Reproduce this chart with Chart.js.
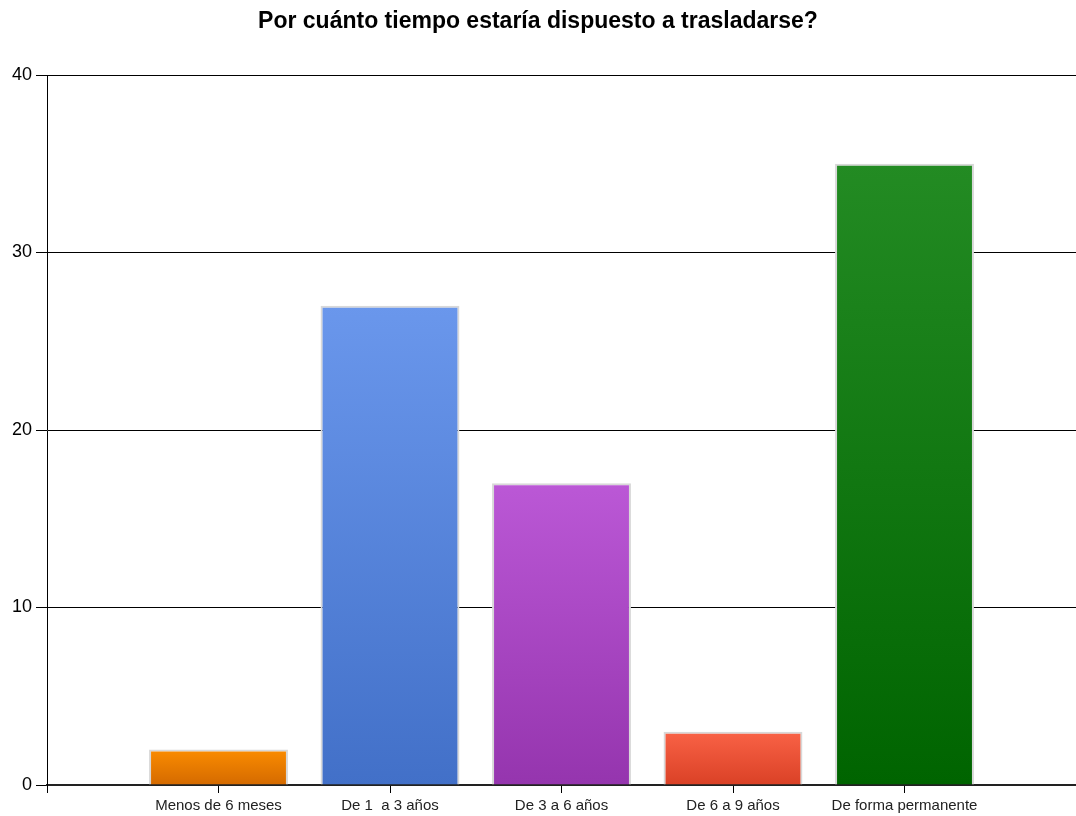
<!DOCTYPE html>
<html>
<head>
<meta charset="utf-8">
<title>Por cuánto tiempo estaría dispuesto a trasladarse?</title>
<script src="https://cdn.jsdelivr.net/npm/chart.js@4/dist/chart.umd.min.js"></script>
<style>
  html, body { margin: 0; padding: 0; background: #fff; }
  #wrap { width: 1076px; height: 816px; }
</style>
</head>
<body>
<div id="wrap"><canvas id="timeChart" width="1076" height="816"></canvas></div>
<script>
// chart data
const categories = ['Menos de 6 meses', 'De 1  a 3 años', 'De 3 a 6 años', 'De 6 a 9 años', 'De forma permanente'];
const values = [2, 27, 17, 3, 35];
const yTicks = [0, 10, 20, 30, 40];
const topColors = ['#fb8c00', '#6a97ec', '#bb58d6', '#f96246', '#238b23'];
const bottomColors = ['#d46a00', '#4270c8', '#9535ae', '#da4126', '#006400'];

// each bar gets its own top->bottom gradient
function barGradient(ctx) {
    const chart = ctx.chart;
    const i = ctx.dataIndex;
    if (!chart.chartArea || !chart.scales.y) return topColors[i];
    const y = chart.scales.y;
    const top = y.getPixelForValue(values[i]);
    const bottom = y.getPixelForValue(0);
    const g = chart.ctx.createLinearGradient(0, top, 0, bottom);
    g.addColorStop(0, topColors[i]);
    g.addColorStop(1, bottomColors[i]);
    return g;
}

Chart.defaults.font.family = "'Liberation Sans', Arial, sans-serif";

new Chart(document.getElementById('timeChart').getContext('2d'), {
    type: 'bar',
    data: {
        datasets: [{
            data: values.map((v, i) => ({ x: i + 1, y: v })),
            backgroundColor: barGradient,
            borderColor: '#d8d8d8',
            borderWidth: 2,
            barPercentage: 0.81,
            categoryPercentage: 1.0
        }]
    },
    options: {
        responsive: false,
        animation: false,
        layout: { padding: 0 },
        plugins: {
            legend: { display: false },
            tooltip: { enabled: false },
            title: {
                display: true,
                text: 'Por cuánto tiempo estaría dispuesto a trasladarse?',
                color: '#000',
                font: { size: 23, weight: 'bold' },
                padding: { top: 8, bottom: 39.4 }
            }
        },
        scales: {
            x: {
                type: 'linear',
                min: 0,
                max: 6,
                offset: false,
                ticks: {
                    stepSize: 1,
                    autoSkip: false,
                    maxRotation: 0,
                    padding: 4,
                    color: '#222',
                    font: { size: 15 },
                    callback: v => categories[v - 1] || ''
                },
                grid: {
                    offset: false,
                    drawOnChartArea: false,
                    drawTicks: true,
                    tickLength: 8,
                    color: '#000'
                },
                border: { color: '#222', width: 2 },
                afterFit: s => {
                    s.height = 31;
                    s.paddingLeft = 0;
                    s.paddingRight = 0;
                }
            },
            y: {
                min: 0,
                max: 40,
                afterBuildTicks: s => { s.ticks = yTicks.map(v => ({ value: v })); },
                ticks: {
                    padding: 4,
                    color: '#000',
                    font: { size: 18 }
                },
                grid: {
                    color: '#000',
                    lineWidth: 1,
                    tickLength: 11
                },
                border: { color: '#000', width: 1 },
                afterFit: s => { s.width = 47; }
            }
        }
    }
});
</script>
</body>
</html>
